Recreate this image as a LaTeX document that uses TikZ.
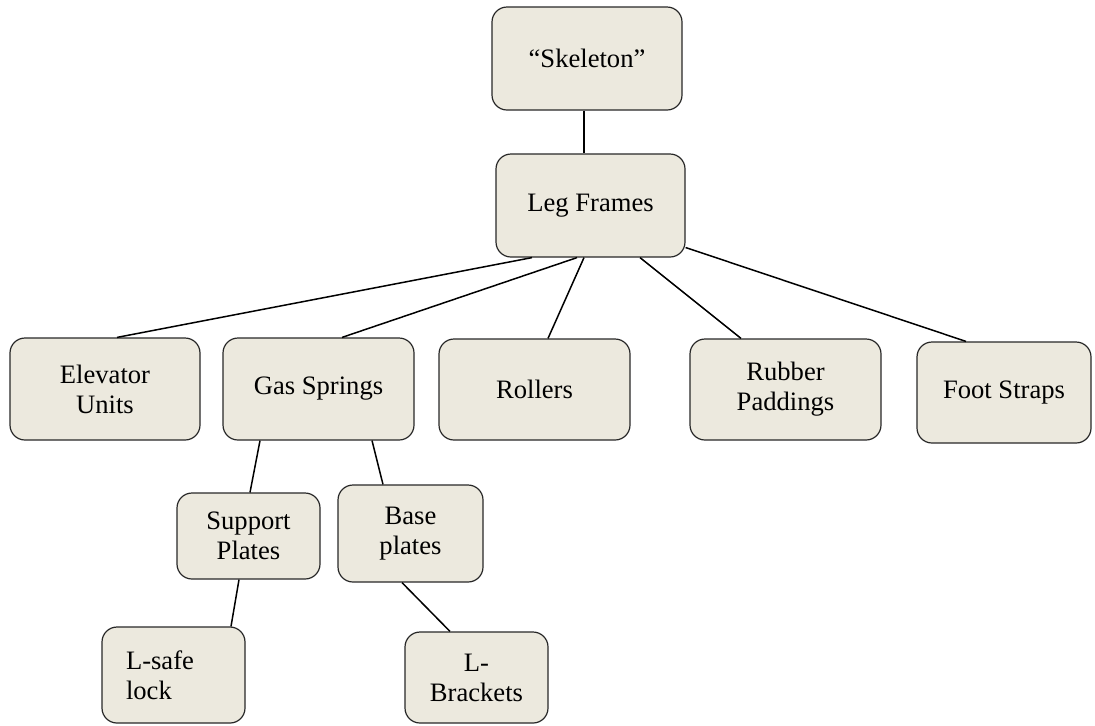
\documentclass[tikz,border=0pt]{standalone}
\usepackage{fontspec}
\setmainfont{Liberation Serif}
\usepackage{tikz}

\definecolor{boxfill}{RGB}{236,233,222}
\definecolor{boxline}{RGB}{40,40,40}

\tikzset{
  part/.style={draw=boxline, fill=boxfill, line width=0.6pt, rounded corners=7.5pt,
    inner sep=0pt, align=center, font=\fontsize{13.3}{15}\selectfont},
  link/.style={line width=0.75pt}
}

\begin{document}
\begin{tikzpicture}[x=0.5pt,y=-0.5pt]
    \useasboundingbox (0,0) rectangle (1095,725);
    % top of the tree
    \node[part, minimum width=95pt, minimum height=51.5pt] (skel) at (587,58.5) {``Skeleton''};
    \node[part, minimum width=94.5pt, minimum height=51.5pt] (leg) at (590.5,205.5) {Leg Frames};
    % second row
    \node[part, minimum width=95pt, minimum height=51pt] (elev) at (105,389) {Elevator\\Units};
    \node[part, minimum width=95.5pt, minimum height=51pt] (gas) at (318.5,389) {Gas Springs};
    \node[part, minimum width=95.5pt, minimum height=50.5pt] (roll) at (534.5,389.5) {Rollers};
    \node[part, minimum width=95.5pt, minimum height=50.5pt] (rubb) at (785.5,389.5) {Rubber\\Paddings};
    \node[part, minimum width=87pt, minimum height=50.5pt] (foot) at (1004,392.5) {Foot Straps};
    % under the gas springs
    \node[part, minimum width=71.5pt, minimum height=43pt] (supp) at (248.5,536) {Support\\Plates};
    \node[part, minimum width=72.5pt, minimum height=48.5pt] (base) at (410.5,533.5) {Base\\plates};
    \node[part, minimum height=48pt, align=left, text width=47.5pt, inner xsep=12pt] (lsafe) at (173.5,675) {L-safe\\lock};
    \node[part, minimum width=71.5pt, minimum height=45.5pt] (lbrk) at (476.5,677.5) {L-\\Brackets};

    \draw[link] ([xshift=-1.5pt]skel.south) -- ([xshift=-3.25pt]leg.north);
    \draw[link] ([xshift=-29.25pt]leg.south) -- ([xshift=6pt]elev.north);
    \draw[link] ([xshift=-6.75pt]leg.south) -- ([xshift=11.75pt]gas.north);
    \draw[link] ([xshift=-3.25pt]leg.south) -- ([xshift=6.75pt]roll.north);
    \draw[link] ([xshift=24.75pt]leg.south) -- ([xshift=-22.25pt]rubb.north);
    \draw[link] ([yshift=-21pt]leg.east) -- ([xshift=-19pt]foot.north);
    \draw[link] ([xshift=-29.25pt]gas.south) -- ([xshift=0.75pt]supp.north);
    \draw[link] ([xshift=26.75pt]gas.south) -- ([xshift=-13.75pt]base.north);
    \draw[link] ([xshift=-4.75pt]supp.south) -- ([xshift=28.75pt]lsafe.north);
    \draw[link] ([xshift=-4.25pt]base.south) -- ([xshift=-13.25pt]lbrk.north);
  \end{tikzpicture}
\end{document}
